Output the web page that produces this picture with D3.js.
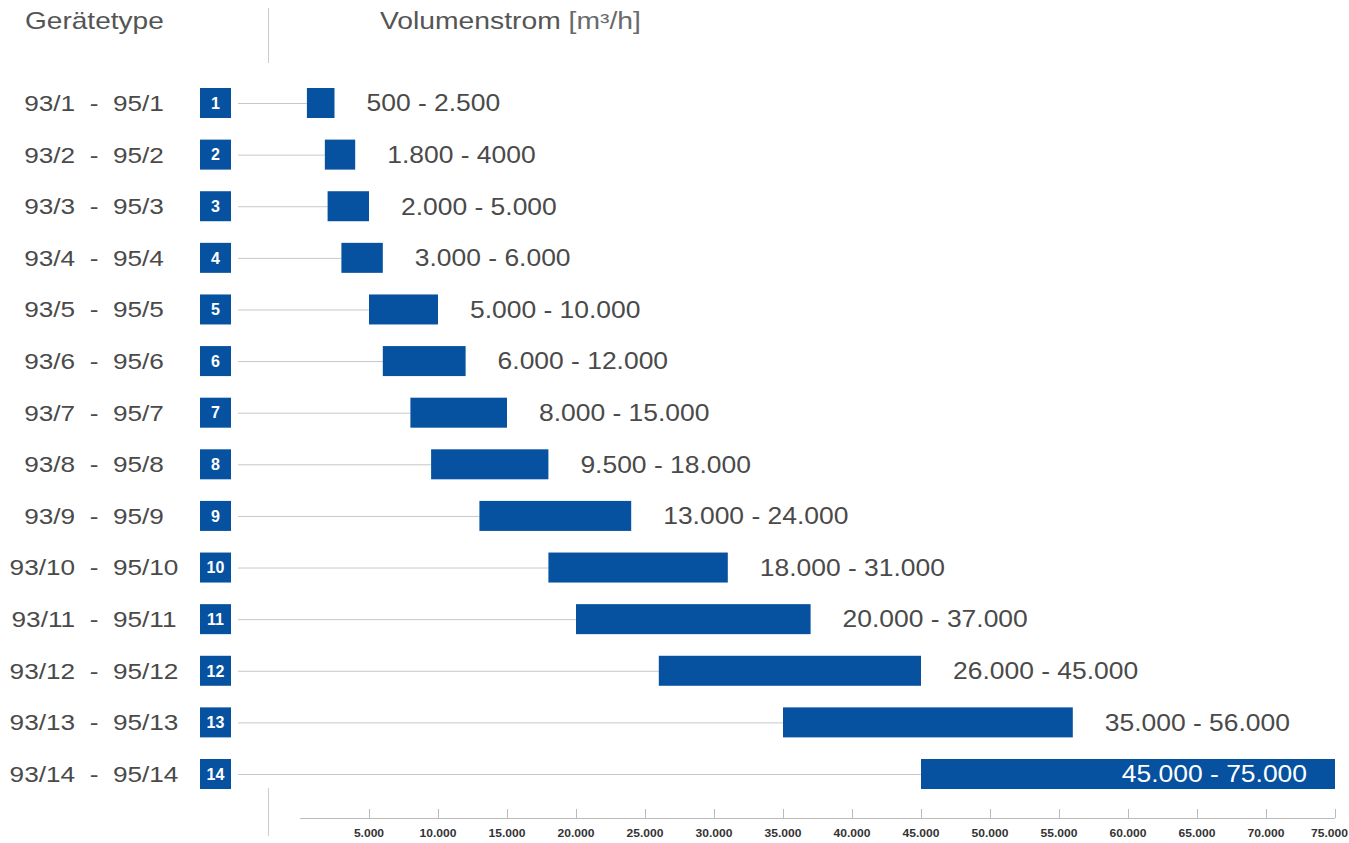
<!DOCTYPE html>
<html>
<head>
<meta charset="utf-8">
<script src="https://cdn.jsdelivr.net/npm/d3@7"></script>
<style>
  html, body { margin: 0; padding: 0; background: #fff; }
  svg { display: block; }
</style>
</head>
<body>
<svg id="chart" width="1349" height="843"></svg>
<script>
// Device types, one row each
const types = ['93/1', '93/2', '93/3', '93/4', '93/5', '93/6', '93/7',
  '93/8', '93/9', '93/10', '93/11', '93/12', '93/13', '93/14'];
const types95 = ['95/1', '95/2', '95/3', '95/4', '95/5', '95/6', '95/7',
  '95/8', '95/9', '95/10', '95/11', '95/12', '95/13', '95/14'];

// Volume flow range in m³/h
const flowMin = [500, 1800, 2000, 3000, 5000, 6000, 8000, 9500, 13000, 18000, 20000, 26000, 35000, 45000];
const flowMax = [2500, 4000, 5000, 6000, 10000, 12000, 15000, 18000, 24000, 31000, 37000, 45000, 56000, 75000];

// Labels as printed (row 2 has no thousands dot on the upper value)
const rangeLabels = ['500 - 2.500', '1.800 - 4000', '2.000 - 5.000', '3.000 - 6.000',
  '5.000 - 10.000', '6.000 - 12.000', '8.000 - 15.000', '9.500 - 18.000',
  '13.000 - 24.000', '18.000 - 31.000', '20.000 - 37.000', '26.000 - 45.000',
  '35.000 - 56.000', '45.000 - 75.000'];

const axisTicks = [5000, 10000, 15000, 20000, 25000, 30000, 35000, 40000,
  45000, 50000, 55000, 60000, 65000, 70000, 75000];

const blue = '#0652a0';
const textColor = '#4a4a4a';
const font = '"Liberation Sans", Arial, sans-serif';

const de = d3.formatLocale({ decimal: ',', thousands: '.', grouping: [3], currency: ['', ' €'] });
const fmt = de.format(',d');

const svg = d3.select('#chart').style('font-family', font);

const x = d3.scaleLinear().domain([0, 75000]).range([300, 1335]);
const y = d3.scalePoint().domain(d3.range(types.length)).range([103, 774]);
const barHeight = 30;

// The source artwork is a bit wider than the font, so text gets stretched sideways
const stretch = (px, py, sx) => `translate(${px}, ${py}) scale(${sx}, 1)`;

// Header
svg.append('text')
  .attr('transform', stretch(25, 29, 1.22))
  .attr('font-size', 23)
  .attr('fill', '#555')
  .text('Gerätetype');

const head = svg.append('text')
  .attr('transform', stretch(380, 29, 1.23))
  .attr('font-size', 23)
  .attr('fill', '#555');
head.append('tspan').text('Volumenstrom ');
head.append('tspan').attr('fill', '#6a6a6a').text('[m³/h]');

// Divider lines
svg.append('line')
  .attr('x1', 268.5).attr('x2', 268.5).attr('y1', 8).attr('y2', 63)
  .attr('stroke', '#ccc');
svg.append('line')
  .attr('x1', 268.5).attr('x2', 268.5).attr('y1', 788).attr('y2', 836)
  .attr('stroke', '#ccc');

// Rows
const rows = svg.append('g').attr('class', 'rows')
  .selectAll('g')
  .data(types.map((t, i) => i))
  .join('g')
  .attr('transform', i => `translate(0, ${y(i)})`);

rows.append('text')
  .attr('transform', stretch(94, 0, 1.19))
  .attr('dy', '0.36em')
  .attr('text-anchor', 'middle')
  .attr('font-size', 22)
  .attr('fill', textColor)
  .attr('xml:space', 'preserve')
  .style('white-space', 'pre')
  .text(i => `${types[i]}  -  ${types95[i]}`);

rows.append('rect')
  .attr('x', 200).attr('y', -15)
  .attr('width', 31).attr('height', 30)
  .attr('fill', blue);

rows.append('text')
  .attr('x', 215.5).attr('y', 0)
  .attr('dy', '0.36em')
  .attr('text-anchor', 'middle')
  .attr('font-size', 16)
  .attr('font-weight', 'bold')
  .attr('fill', '#fff')
  .text(i => i + 1);

rows.append('line')
  .attr('x1', 238).attr('x2', i => x(flowMin[i]))
  .attr('y1', 0.5).attr('y2', 0.5)
  .attr('stroke', '#c8c8c8');

rows.append('rect')
  .attr('x', i => x(flowMin[i]))
  .attr('y', -barHeight / 2)
  .attr('width', i => x(flowMax[i]) - x(flowMin[i]))
  .attr('height', barHeight)
  .attr('fill', blue);

const last = types.length - 1;
rows.append('text')
  .attr('transform', i => stretch(i === last ? x(flowMax[i]) - 28 : x(flowMax[i]) + 32, 0, 1.15))
  .attr('dy', '0.36em')
  .attr('text-anchor', i => (i === last ? 'end' : 'start'))
  .attr('font-size', 23)
  .attr('fill', i => (i === last ? '#fff' : textColor))
  .text(i => rangeLabels[i]);

// Axis
const axis = svg.append('g')
  .attr('transform', 'translate(0, 818)')
  .call(d3.axisTop(x).tickValues(axisTicks).tickSize(9).tickFormat(''));
axis.select('.domain').attr('stroke', '#bbb').attr('d', `M${x(0)},0.5H${x(75000)}`);
axis.selectAll('.tick line').attr('stroke', '#bbb');

const lastTick = axisTicks[axisTicks.length - 1];
svg.append('g')
  .selectAll('text')
  .data(axisTicks)
  .join('text')
  .attr('transform', d => stretch(d === lastTick ? 1348 : x(d), 837, 1.15))
  .attr('text-anchor', d => (d === lastTick ? 'end' : 'middle'))
  .attr('font-size', 10.5)
  .attr('font-weight', 'bold')
  .attr('fill', '#333')
  .text(d => fmt(d));
</script>
</body>
</html>
